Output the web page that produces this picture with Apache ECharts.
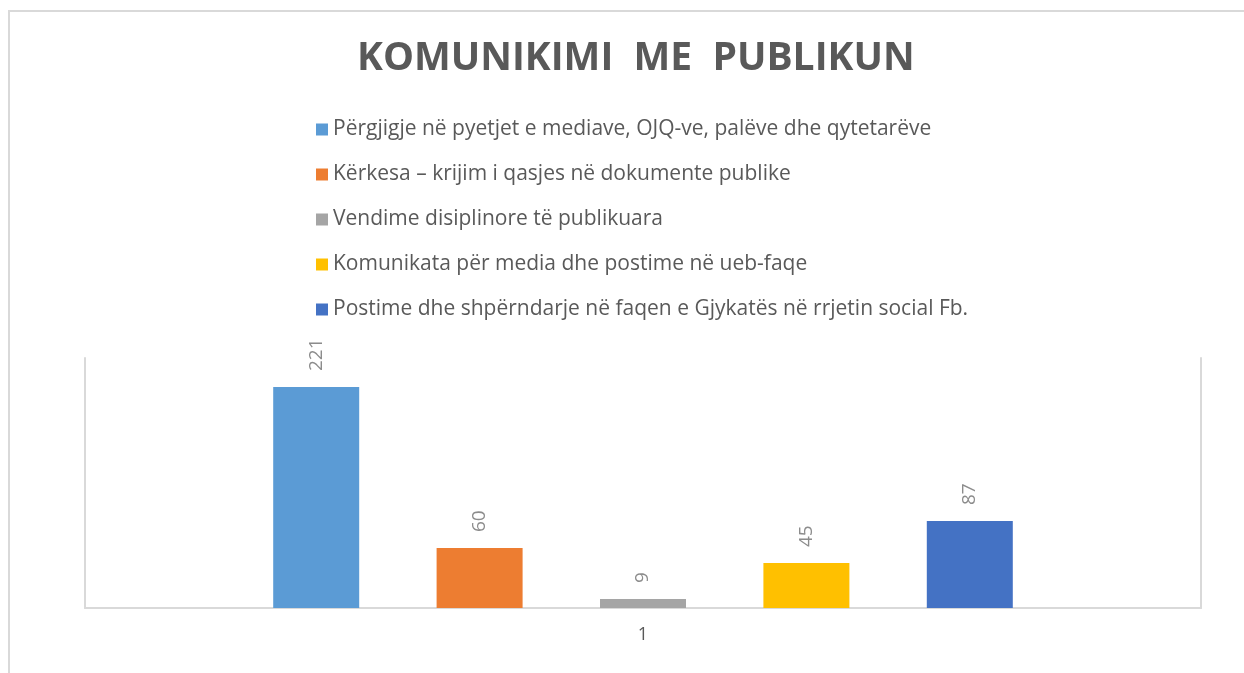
<!DOCTYPE html>
<html><head><meta charset="utf-8">
<script src="https://cdn.jsdelivr.net/npm/echarts@6/dist/echarts.min.js"></script>
<style>
html,body{margin:0;padding:0;background:#fff;}
#frame{position:absolute;left:8px;top:10px;width:1236px;height:663px;border-top:2px solid #d9d9d9;border-left:2px solid #d9d9d9;box-sizing:border-box;}
#c{position:absolute;left:0;top:0;width:1244px;height:673px;}
</style></head>
<body>
<div id="frame"></div>
<div id="c"></div>
<script>
const categories = ['1'];
const seriesNames = [
  'Përgjigje në pyetjet e mediave, OJQ-ve, palëve dhe qytetarëve',
  'Kërkesa – krijim i qasjes në dokumente publike',
  'Vendime disiplinore të publikuara',
  'Komunikata për media dhe postime në ueb-faqe',
  'Postime dhe shpërndarje në faqen e Gjykatës në rrjetin social Fb.'
];
const seriesValues = [221, 60, 9, 45, 87];
const colors = ['#5b9bd5', '#ed7d31', '#a5a5a5', '#ffc000', '#4472c4'];

const chart = echarts.init(document.getElementById('c'));
chart.setOption({
  animation: false,
  title: {
    text: 'KOMUNIKIMI  ME  PUBLIKUN',
    left: 352, top: 34,
    textStyle: { fontFamily: 'Open Sans', fontWeight: 'bold', fontSize: 39, color: '#595959' }
  },
  legend: {
    orient: 'vertical', left: 311, top: 114,
    itemWidth: 12, itemHeight: 12, itemGap: 24,
    icon: 'rect',
    textStyle: { fontFamily: 'Open Sans', fontSize: 21, color: '#595959' },
    data: seriesNames
  },
  grid: { left: 85, right: 43, top: 358, bottom: 65 },
  xAxis: {
    type: 'category', data: categories,
    axisLine: { lineStyle: { color: '#d9d9d9', width: 2 } },
    axisTick: { show: false },
    axisLabel: { color: '#595959', fontSize: 18, fontFamily: 'Open Sans', margin: 18 }
  },
  yAxis: [
    { type: 'value', min: 0, max: 250, position: 'left',
      axisLine: { show: true, lineStyle: { color: '#d9d9d9', width: 2 } },
      axisLabel: { show: false }, axisTick: { show: false }, splitLine: { show: false } },
    { type: 'value', min: 0, max: 250, position: 'right',
      axisLine: { show: true, lineStyle: { color: '#d9d9d9', width: 2 } },
      axisLabel: { show: false }, axisTick: { show: false }, splitLine: { show: false } }
  ],
  series: seriesNames.map((n, i) => ({
    name: n, type: 'bar', yAxisIndex: 0,
    data: [seriesValues[i]],
    barWidth: 86, barGap: '90%',
    itemStyle: { color: colors[i] },
    label: {
      show: true, position: 'top', rotate: 90, align: 'left', verticalAlign: 'middle',
      distance: 16, color: '#8c8c8c', fontSize: 19, fontFamily: 'Open Sans'
    }
  }))
});
</script>
</body></html>
